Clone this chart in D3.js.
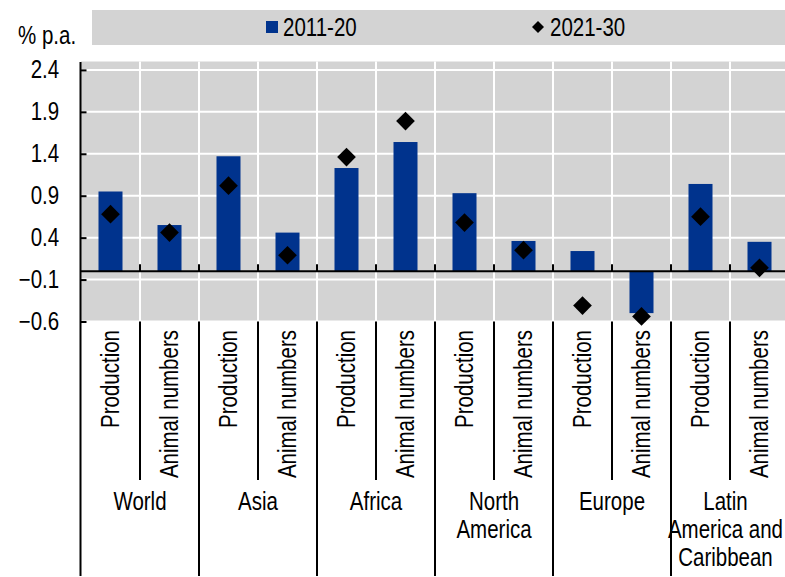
<!DOCTYPE html>
<html>
<head>
<meta charset="utf-8">
<script src="https://cdn.jsdelivr.net/npm/d3@7"></script>
<style>
	body { margin: 0; background: #fff; }
	svg text { font-family: "Liberation Sans", Arial, sans-serif; font-size: 25px; fill: #000; }
</style>
</head>
<body>
<svg id="chart" width="785" height="577"></svg>
<script>
var regions = ['World', 'Asia', 'Africa', 'North America', 'Europe', 'Latin America and Caribbean'];
var regionLines = [['World'], ['Asia'], ['Africa'], ['North', 'America'], ['Europe'], ['Latin', 'America and', 'Caribbean']];
var measures = ['Production', 'Animal numbers'];
var values2011 = [0.95, 0.55, 1.37, 0.46, 1.23, 1.54, 0.93, 0.36, 0.24, -0.50, 1.04, 0.35];
var values2021 = [0.68, 0.46, 1.02, 0.19, 1.36, 1.79, 0.58, 0.25, -0.41, -0.54, 0.65, 0.04];
var yTicks = [-0.6, -0.1, 0.4, 0.9, 1.4, 1.9, 2.4];
var seriesNames = ['2011-20', '2021-30'];

var blue = '#00338d';
var grey = '#d3d3d3';
var narrow = 'scale(0.82,1)'; //no narrow face installed, squeeze the regular one

var svg = d3.select('#chart');

//one category per region/measure pair
var cats = [];
regions.forEach(function(r){
	measures.forEach(function(m){ cats.push(r + '|' + m); });
});
var data = cats.map(function(c, i){
	return {key: c, region: c.split('|')[0], measure: c.split('|')[1], v1: values2011[i], v2: values2021[i]};
});

var plotLeft = 81, plotRight = 789, plotTop = 61.5, plotBottom = 321.5;
var x = d3.scaleBand().domain(cats).range([plotLeft, plotRight]).padding(0);
var y = d3.scaleLinear().domain([-0.6, 2.5]).range([plotBottom, plotTop]);
var bw = x.bandwidth();

function label(px, py, txt) {
	return svg.append('text')
		.attr('transform', 'translate(' + px + ',' + py + ') ' + narrow)
		.text(txt);
}

//legend
svg.append('rect').attr('x', 92).attr('y', 10).attr('width', 700).attr('height', 35).attr('fill', grey);
svg.append('rect').attr('x', 266).attr('y', 21).attr('width', 12).attr('height', 12).attr('fill', blue);
label(283, 36, seriesNames[0]);
svg.append('path')
	.attr('d', d3.symbol(d3.symbolSquare, 72)())
	.attr('transform', 'translate(538,27) rotate(45)')
	.attr('fill', '#000');
label(550, 36, seriesNames[1]);

label(18, 44, '% p.a.');

//plot background and grid
svg.append('rect').attr('x', plotLeft).attr('y', plotTop).attr('width', plotRight - plotLeft).attr('height', plotBottom - plotTop).attr('fill', grey);

svg.selectAll('line.hgrid')
	.data(yTicks)
	.enter().append('line')
	.attr('class', 'hgrid')
	.attr('x1', plotLeft).attr('x2', plotRight)
	.attr('y1', function(d){ return y(d); }).attr('y2', function(d){ return y(d); })
	.attr('stroke', '#fff').attr('stroke-width', 2);

var bounds = cats.slice(1).map(function(c){ return x(c); });

svg.selectAll('line.vgrid')
	.data(bounds)
	.enter().append('line')
	.attr('class', 'vgrid')
	.attr('x1', function(d){ return d; }).attr('x2', function(d){ return d; })
	.attr('y1', plotTop).attr('y2', plotBottom)
	.attr('stroke', '#fff').attr('stroke-width', 2);

//bars
svg.selectAll('rect.bar')
	.data(data)
	.enter().append('rect')
	.attr('class', 'bar')
	.attr('x', function(d){ return x(d.key) + bw / 2 - 12; })
	.attr('width', 24)
	.attr('y', function(d){ return y(Math.max(0, d.v1)); })
	.attr('height', function(d){ return Math.abs(y(d.v1) - y(0)); })
	.attr('fill', blue);

//zero line with small ticks at boundaries
svg.append('line')
	.attr('x1', plotLeft).attr('x2', plotRight)
	.attr('y1', y(0)).attr('y2', y(0))
	.attr('stroke', '#000').attr('stroke-width', 2);
svg.selectAll('line.ztick')
	.data(bounds)
	.enter().append('line')
	.attr('class', 'ztick')
	.attr('x1', function(d){ return d; }).attr('x2', function(d){ return d; })
	.attr('y1', y(0) - 7).attr('y2', y(0))
	.attr('stroke', '#000').attr('stroke-width', 2);

//diamonds
svg.selectAll('path.dot')
	.data(data)
	.enter().append('path')
	.attr('class', 'dot')
	.attr('d', d3.symbol(d3.symbolSquare, 175)())
	.attr('transform', function(d){ return 'translate(' + (x(d.key) + bw / 2) + ',' + y(d.v2) + ') rotate(45)'; })
	.attr('fill', '#000');

//y axis
var yAxis = d3.axisLeft(y)
	.tickValues(yTicks)
	.tickFormat(d3.format('.1f'))
	.tickSizeInner(-6)
	.tickSizeOuter(0)
	.tickPadding(26);
var gy = svg.append('g').attr('transform', 'translate(80.5,0)').call(yAxis);
gy.attr('font-size', null).attr('font-family', null);
gy.select('.domain').remove();
gy.selectAll('.tick line').attr('stroke', '#000').attr('stroke-width', 2);
gy.selectAll('.tick text').attr('dy', '0.3em').attr('transform', narrow);
svg.append('line')
	.attr('x1', 80.5).attr('x2', 80.5).attr('y1', 62).attr('y2', 576)
	.attr('stroke', '#000').attr('stroke-width', 2);

//category labels
svg.selectAll('text.cat')
	.data(data)
	.enter().append('text')
	.attr('class', 'cat')
	.attr('transform', function(d){ return 'translate(' + (x(d.key) + bw / 2) + ',' + 330 + ') rotate(-90) ' + narrow; })
	.attr('text-anchor', 'end')
	.attr('dy', '0.33em')
	.text(function(d){ return d.measure; });

//separators below the plot
svg.selectAll('line.sep')
	.data(bounds)
	.enter().append('line')
	.attr('class', 'sep')
	.attr('x1', function(d){ return d; }).attr('x2', function(d){ return d; })
	.attr('y1', plotBottom)
	.attr('y2', function(d, i){ return i % 2 === 0 ? 480 : 576; })
	.attr('stroke', '#000').attr('stroke-width', 2);

//region labels, pulled in if they run off the right edge
var rg = svg.selectAll('text.region')
	.data(regions)
	.enter().append('text')
	.attr('class', 'region')
	.attr('text-anchor', 'middle')
	.attr('transform', function(r){ return 'translate(' + x(r + '|' + measures[1]) + ',510) ' + narrow; });
rg.selectAll('tspan')
	.data(function(r, i){ return regionLines[i]; })
	.enter().append('tspan')
	.attr('x', 0)
	.attr('dy', function(d, i){ return i === 0 ? 0 : 28; })
	.text(function(d){ return d; });
rg.each(function(r){
	var box = this.getBoundingClientRect();
	var cx = x(r + '|' + measures[1]);
	var over = box.right - 783;
	if (over > 0)
		d3.select(this).attr('transform', 'translate(' + (cx - over) + ',510) ' + narrow);
});
</script>
</body>
</html>
